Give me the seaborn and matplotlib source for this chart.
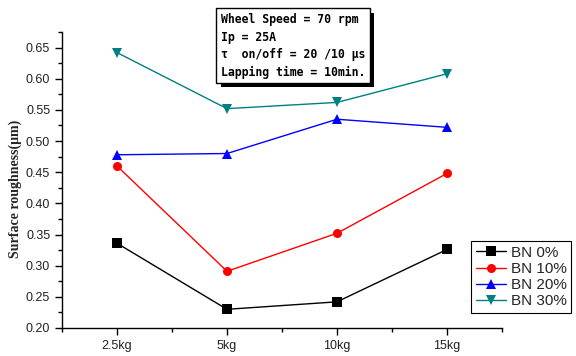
import matplotlib
matplotlib.use("Agg")
import matplotlib.pyplot as plt
import matplotlib.patheffects as pe
from matplotlib.ticker import FixedLocator, MultipleLocator
import seaborn as sns
import pandas as pd

categories = ["2.5kg", "5kg", "10kg", "15kg"]
series_names = ["BN 0%", "BN 10%", "BN 20%", "BN 30%"]
bn0 = [0.336, 0.230, 0.242, 0.326]
bn10 = [0.460, 0.291, 0.352, 0.448]
bn20 = [0.478, 0.480, 0.535, 0.522]
bn30 = [0.642, 0.552, 0.562, 0.608]
yticks = [0.20, 0.25, 0.30, 0.35, 0.40, 0.45, 0.50, 0.55, 0.60, 0.65]
note = "Wheel Speed = 70 rpm\nIp = 25A\n\u03c4  on/off = 20 /10 \u03bcs\nLapping time = 10min."

rows = []
for name, vals in zip(series_names, [bn0, bn10, bn20, bn30]):
    for c, v in zip(categories, vals):
        rows.append({"Load": c, "Roughness": v, "Series": name})
df = pd.DataFrame(rows)
df["Load"] = pd.Categorical(df["Load"], categories=categories, ordered=True)

sns.set_style("ticks")
plt.rcParams["font.family"] = ["Liberation Sans", "DejaVu Sans"]

fig = plt.figure(figsize=(5.76, 3.56), dpi=100)
ax = fig.add_axes([62 / 576, 1 - 328 / 356, 440 / 576, 296 / 356])

palette = {"BN 0%": "black", "BN 10%": "#ff0000", "BN 20%": "#0000ff", "BN 30%": "#008080"}
markers = {"BN 0%": "s", "BN 10%": "o", "BN 20%": "^", "BN 30%": "v"}

sns.lineplot(data=df, x="Load", y="Roughness", hue="Series", style="Series",
             palette=palette, markers=markers, dashes=False, linewidth=1.0,
             markersize=6.5, markeredgewidth=0, ax=ax, sort=False, legend=True)

ax.set_xlim(-0.5, 3.5)
ax.set_ylim(0.20, 0.675)
ax.set_yticks(yticks)
ax.set_yticklabels([f"{t:.2f}" for t in yticks])
ax.yaxis.set_minor_locator(MultipleLocator(0.025))
ax.xaxis.set_minor_locator(FixedLocator([-0.5, 0.5, 1.5, 2.5, 3.5]))
ax.tick_params(axis="both", which="major", direction="out", length=5, width=1,
               labelsize=9, color="black", labelcolor="#222222")
ax.tick_params(axis="both", which="minor", direction="out", length=3, width=1, color="black")
for s in ["top", "right"]:
    ax.spines[s].set_visible(False)
for s in ["left", "bottom"]:
    ax.spines[s].set_linewidth(1.0)
    ax.spines[s].set_color("black")

ax.set_xlabel("")
ax.set_ylabel("Surface roughness(\u03bcm)", fontfamily=["Liberation Serif", "DejaVu Serif"],
              fontweight="bold", fontsize=10)
ax.yaxis.set_label_coords(-0.092, 0.47)

handles, labels = ax.get_legend_handles_labels()
ax.legend(handles, labels, loc="upper left", bbox_to_anchor=(471 / 576, 1 - 241 / 356),
          bbox_transform=fig.transFigure, fancybox=False, edgecolor="black", framealpha=1,
          fontsize=11, handlelength=2.0, handletextpad=0.3, borderpad=0.3,
          labelspacing=0.15, borderaxespad=0)
ax.get_legend().get_frame().set_linewidth(0.8)

# annotation box with drop shadow
tx, ty = 221 / 576, 1 - 13 / 356
t = fig.text(tx, ty, note, ha="left", va="top", fontsize=8.3, fontweight="bold",
             fontfamily="DejaVu Sans Mono", color="black", linespacing=1.45,
             bbox=dict(boxstyle="square,pad=0.4", facecolor="white", edgecolor="black", linewidth=1.0),
             zorder=6)
t.get_bbox_patch().set_path_effects([
    pe.SimplePatchShadow(offset=(3, -3), shadow_rgbFace="black", alpha=1.0),
    pe.Normal(),
])

fig.savefig("out.png", dpi=100)
